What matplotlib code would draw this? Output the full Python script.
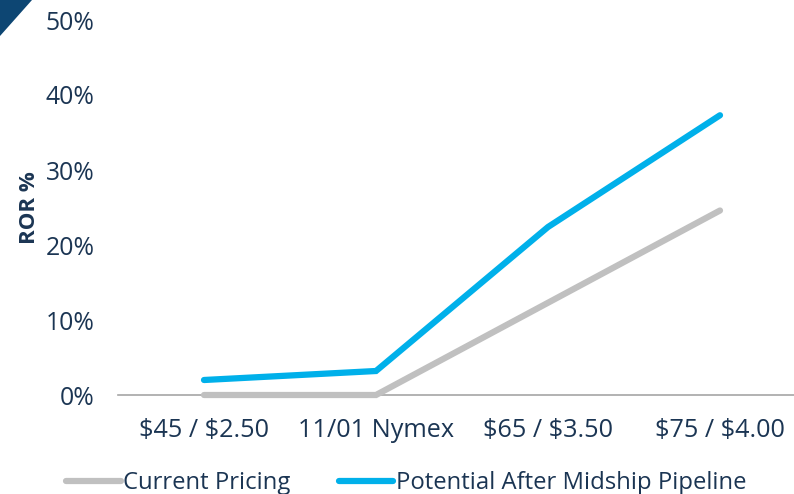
import matplotlib
matplotlib.use("Agg")
import matplotlib.pyplot as plt
from matplotlib.patches import Polygon

categories = ["\\$45 / \\$2.50", "11/01 Nymex", "\\$65 / \\$3.50", "\\$75 / \\$4.00"]
current_pricing = [0.0, 0.0, 12.3, 24.6]
potential_midship = [2.0, 3.2, 22.4, 37.3]
yticks = [0, 10, 20, 30, 40, 50]
ytick_labels = ["0%", "10%", "20%", "30%", "40%", "50%"]

plt.rcParams['font.family'] = ['Open Sans', 'DejaVu Sans']
text_color = "#1b3553"
fs = 17.2

fig = plt.figure(figsize=(7.94, 4.94), dpi=100)
W, H = 794, 494
x0, x1 = 118, 806
y0, y1 = 395, 20
ax = fig.add_axes([x0 / W, 1 - y0 / H, (x1 - x0) / W, (y0 - y1) / H])

x = list(range(len(categories)))
ax.plot(x, current_pricing, color="#c0c0c0", lw=4.5, solid_capstyle="round",
        solid_joinstyle="miter", label="Current Pricing", clip_on=False, zorder=3)
ax.plot(x, potential_midship, color="#00b0ea", lw=4.5, solid_capstyle="round",
        solid_joinstyle="miter", label="Potential After Midship Pipeline", clip_on=False, zorder=4)

ax.set_xlim(-0.5, 3.5)
ax.set_ylim(0, 50)
ax.set_yticks(yticks)
ax.set_yticklabels(ytick_labels)
ax.set_xticks(x)
ax.set_xticklabels(categories)
ax.tick_params(axis='both', length=0, colors=text_color)
ax.tick_params(axis='y', pad=17, labelsize=17.8)
ax.tick_params(axis='x', pad=16.5, labelsize=18.2)
for s in ["top", "right", "left"]:
    ax.spines[s].set_visible(False)
ax.spines["bottom"].set_color("#a6a6a6")
ax.spines["bottom"].set_linewidth(1.2)
ax.set_ylabel("ROR %", fontsize=16, fontweight="bold", color=text_color)
ax.yaxis.set_label_coords(-0.114, 0.5)

handles, labels = ax.get_legend_handles_labels()
leg = fig.legend(handles, labels, loc="lower left", bbox_to_anchor=(56 / W, -0.022),
                 ncol=2, frameon=False, fontsize=fs, handlelength=2.3,
                 handletextpad=0.12, columnspacing=2.0, borderaxespad=0)
for t in leg.get_texts():
    t.set_color(text_color)

tri = Polygon([[0, 1], [32 / W, 1], [0, 1 - 36 / H]], closed=True,
              transform=fig.transFigure, facecolor="#0d4673", edgecolor="none")
fig.patches.append(tri)

fig.savefig("out.png", dpi=100)
